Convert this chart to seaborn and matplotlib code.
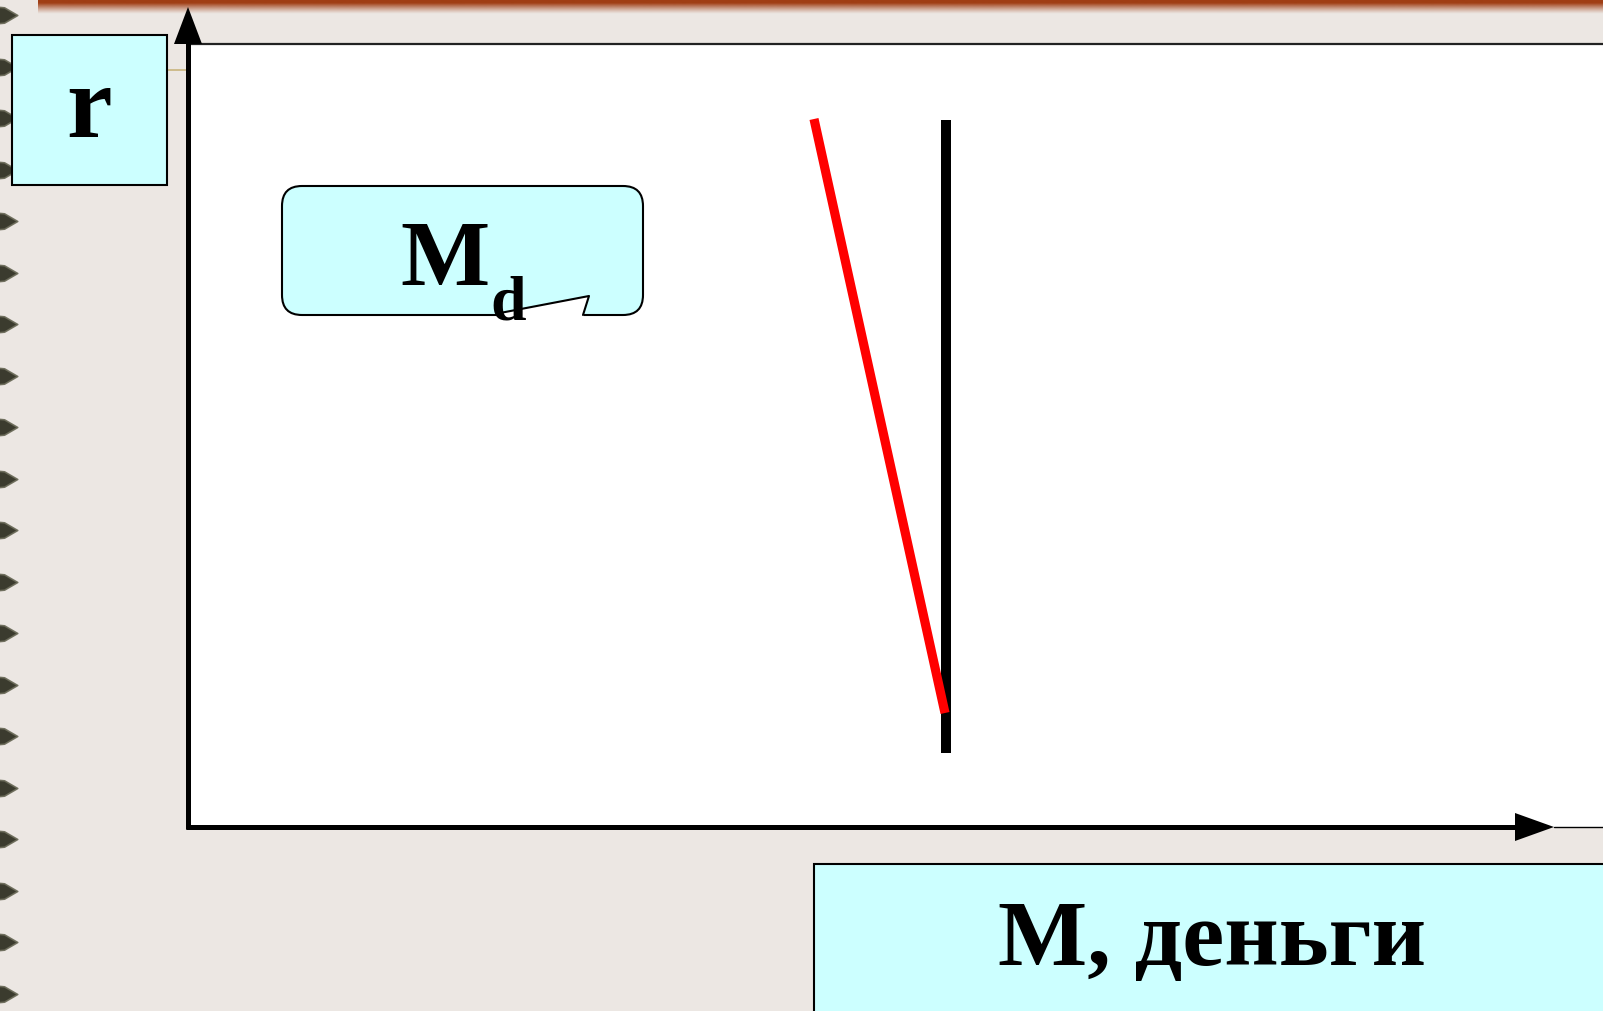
import matplotlib
import matplotlib.pyplot as plt
import numpy as np
import seaborn as sns
from matplotlib.patches import Rectangle, FancyBboxPatch, Polygon

matplotlib.use('agg')

# money market diagram (x: 1 unit = 100 px, origin at the axes corner)
supply_x = [7.58, 7.58]
supply_y = [0.74, 7.07]
demand_x = [6.26, 7.57]
demand_y = [7.08, 1.14]
demand_label = 'M'
demand_sub = 'd'
y_label = 'r'
x_label = 'М, деньги'

W, H = 1603, 1011
BG = '#ECE7E3'
CYAN = '#CCFFFF'
SERIF = ['Liberation Serif', 'DejaVu Serif']

sns.set_style('white')
fig = plt.figure(figsize=(W / 100, H / 100), dpi=100, facecolor=BG)

# background layer in pixel coordinates
bg = fig.add_axes([0, 0, 1, 1])
bg.set_xlim(0, W)
bg.set_ylim(H, 0)
bg.axis('off')
bg.set_facecolor(BG)

# top brown band fading out
grad = np.zeros((40, 2, 4))
grad[:, :, 0] = 160 / 255
grad[:, :, 1] = 62 / 255
grad[:, :, 2] = 20 / 255
grad[:, :, 3] = np.clip(1.25 - np.linspace(0, 1.25, 40), 0, 1)[:, None] ** 1.2
bg.imshow(grad, extent=[38, W, 14, 0], aspect='auto', zorder=1)

# spiral binding dots on the left edge
dot_y = 15 + 51.5 * np.arange(20)
tear = [(-1, -0.8), (0.1, -0.7), (0.7, -0.35), (1.3, 0), (0.7, 0.35), (0.1, 0.7), (-1, 0.8)]
bg.scatter(np.full(len(dot_y), 3), dot_y, marker=tear, s=420, color='#2C2C1E',
           edgecolors='#6A6A58', linewidths=1.2, alpha=0.92, zorder=2)

# white plot field
bg.add_patch(Rectangle((188, 43), W - 188, 827 - 43, facecolor='white', edgecolor='none', zorder=1))
bg.plot([188, W], [43.5, 43.5], color='#222222', lw=1.6, zorder=2)

# r box
bg.add_patch(Rectangle((12, 35), 155, 150, facecolor=CYAN, edgecolor='black', lw=1.5, zorder=3))
bg.plot([167, 186], [70, 70], color='#C8B47C', lw=1.2, zorder=2)
bg.text(89, 137, y_label, family=SERIF, fontweight='bold', fontsize=74, color='black',
        ha='center', va='baseline', zorder=4)

# Md callout
bg.add_patch(FancyBboxPatch((282, 186), 361, 129, boxstyle='round,pad=0,rounding_size=20',
                            facecolor=CYAN, edgecolor='black', lw=1.5, zorder=3))
bg.add_patch(Polygon([(498, 313), (589, 296), (583, 318), (498, 318)], closed=True,
                     facecolor='white', edgecolor='none', zorder=3.5))
bg.plot([500, 589, 583], [313, 296, 315], color='black', lw=1.5, zorder=3.6)
bg.text(400, 285, demand_label, family=SERIF, fontweight='bold', fontsize=68, color='black',
        ha='left', va='baseline', zorder=4)
bg.text(490, 320, demand_sub, family=SERIF, fontweight='bold', fontsize=46, color='black',
        ha='left', va='baseline', zorder=4)

# axes with arrows
bg.plot([186, 1516], [827, 827], color='black', lw=3.6, solid_capstyle='butt', zorder=5)
bg.plot([1554, W], [827, 827], color='black', lw=1.0, zorder=5)
bg.add_patch(Polygon([(1515, 813), (1554, 827), (1515, 841)], closed=True,
                     facecolor='black', edgecolor='none', zorder=5))
bg.plot([188, 188], [829, 43], color='black', lw=3.6, solid_capstyle='butt', zorder=5)
bg.add_patch(Polygon([(174, 44), (188, 7), (202, 44)], closed=True,
                     facecolor='black', edgecolor='none', zorder=5))

# x label box
bg.add_patch(Rectangle((814, 864), W - 814 + 10, H - 864 + 10, facecolor=CYAN,
                       edgecolor='black', lw=1.5, zorder=3))
bg.text(1212, 965, x_label, family=SERIF, fontweight='bold', fontsize=68, color='black',
        ha='center', va='baseline', zorder=4)

# data axes over the white field
ax = fig.add_axes([188 / W, (H - 827) / H, (W - 188) / W, (827 - 43) / H])
ax.set_xlim(0, (W - 188) / 100)
ax.set_ylim(0, (827 - 43) / 100)
ax.patch.set_alpha(0)
ax.axis('off')

sns.lineplot(x=supply_x, y=supply_y, estimator=None, sort=False, color='black',
             linewidth=7.2, solid_capstyle='butt', ax=ax)
sns.lineplot(x=demand_x, y=demand_y, estimator=None, sort=False, color='#FF0000',
             linewidth=6.6, solid_capstyle='butt', ax=ax)

fig.savefig('out.png', dpi=100, facecolor=BG)
